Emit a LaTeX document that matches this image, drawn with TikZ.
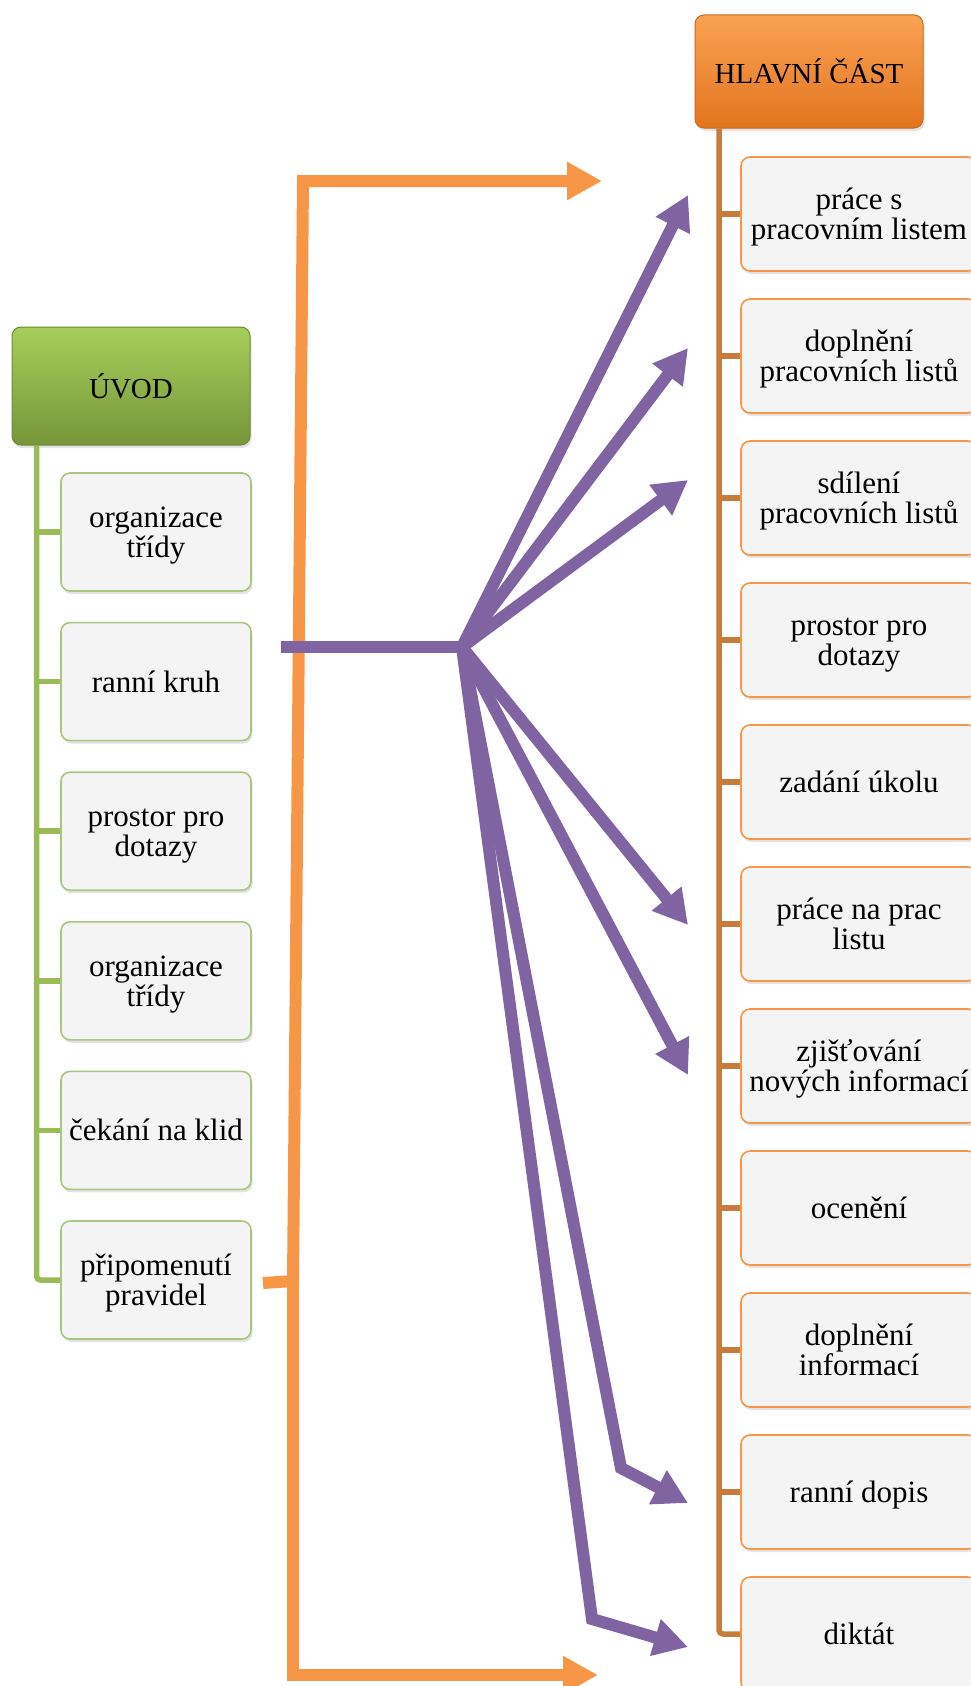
\documentclass[tikz,border=0pt]{standalone}
\usepackage{fontspec}
\setmainfont{Liberation Serif}
\usetikzlibrary{arrows.meta,shadows}

\definecolor{purp}{HTML}{8064A2}
\definecolor{orarrow}{HTML}{F79646}
\definecolor{ortrunk}{HTML}{C77C3C}
\definecolor{grtrunk}{HTML}{9BBB59}
\definecolor{grborder}{HTML}{A9C67E}
\definecolor{orborder}{HTML}{F79646}
\definecolor{boxfill}{HTML}{F4F4F4}
\definecolor{ortop}{HTML}{FAA353}
\definecolor{orbot}{HTML}{E2741E}
\definecolor{oredge}{HTML}{C9691E}
\definecolor{grtop}{HTML}{A6CE5A}
\definecolor{grbot}{HTML}{77963A}
\definecolor{gredge}{HTML}{6E8A35}

\newcommand\bs{\rule{0pt}{29pt}}
\newcommand\es{\rule[-8pt]{0pt}{8pt}}

\begin{document}
\begin{tikzpicture}[x=1pt,y=-1pt,
  childtext/.style={font=\fontsize{31}{29.5}\selectfont, align=center, text=black},
  boxshadow/.style={drop shadow={opacity=0.22, shadow xshift=1.5pt, shadow yshift=-3pt}},
  leftbox/.style={draw=grborder, line width=1.6pt, rounded corners=9pt, fill=boxfill,
    minimum width=190pt, minimum height=118pt, inner sep=0pt, childtext, boxshadow},
  rightbox/.style={draw=orborder, line width=1.6pt, rounded corners=9pt, fill=boxfill,
    minimum width=236pt, minimum height=114pt, inner sep=0pt, childtext, boxshadow},
  headbox/.style={line width=1pt, rounded corners=9pt, inner sep=0pt,
    font=\fontsize{29}{30}\selectfont, text=black, boxshadow},
  grline/.style={draw=grtrunk, line width=5.5pt},
  orline/.style={draw=ortrunk, line width=5.5pt},
  purparrow/.style={draw=purp, line width=12pt, -{Triangle[length=34pt,width=36pt]}},
  oraarrow/.style={draw=orarrow, line width=12pt, -{Triangle[length=35pt,width=36pt]}},
]
\useasboundingbox (0,0) rectangle (971,1686);

% headers
\node[headbox, draw=gredge, top color=grtop, bottom color=grbot,
  minimum width=238pt, minimum height=118pt] (uvod) at (131,386) {ÚVOD};
\node[headbox, draw=oredge, top color=ortop, bottom color=orbot,
  minimum width=228pt, minimum height=113pt] (hlavni) at (809,71.5) {HLAVNÍ ČÁST};

% left children
\node[leftbox] (l1) at (156,532) {\bs organizace\\třídy\es};
\node[leftbox] (l2) at (156,681.6) {\bs ranní kruh\es};
\node[leftbox] (l3) at (156,831.2) {\bs prostor pro\\dotazy\es};
\node[leftbox] (l4) at (156,980.8) {\bs organizace\\třídy\es};
\node[leftbox] (l5) at (156,1130.4) {\bs čekání na klid\es};
\node[leftbox] (l6) at (156,1280) {\bs připomenutí\\pravidel\es};

% right children
\node[rightbox] (r1) at (859,214) {\bs práce s\\pracovním listem\es};
\node[rightbox] (r2) at (859,356) {\bs doplnění\\pracovních listů\es};
\node[rightbox] (r3) at (859,498) {\bs sdílení\\pracovních listů\es};
\node[rightbox] (r4) at (859,640) {\bs prostor pro\\dotazy\es};
\node[rightbox] (r5) at (859,782) {\bs zadání úkolu\es};
\node[rightbox] (r6) at (859,924) {\bs práce na prac\\listu\es};
\node[rightbox] (r7) at (859,1066) {\bs zjišťování\\nových informací\es};
\node[rightbox] (r8) at (859,1208) {\bs ocenění\es};
\node[rightbox] (r9) at (859,1350) {\bs doplnění\\informací\es};
\node[rightbox] (r10) at (859,1492) {\bs ranní dopis\es};
\node[rightbox] (r11) at (859,1634) {\bs diktát\es};

% left trunk
\coordinate (gt) at ([xshift=25pt]uvod.south west);
\draw[grline, rounded corners=4pt] (gt) |- (l6.west);
\foreach \i in {1,...,5} { \draw[grline] (gt |- l\i.west) -- (l\i.west); }

% right trunk
\coordinate (ot) at ([xshift=24.5pt]hlavni.south west);
\draw[orline, rounded corners=4pt] (ot) |- (r11.west);
\foreach \i in {1,...,10} { \draw[orline] (ot |- r\i.west) -- (r\i.west); }

% orange arrows
\coordinate (ostub) at (263,1283);
\coordinate (ojun) at (293,1281);
\coordinate (otop) at (303,181);
\coordinate (otip) at (602,181);
\coordinate (obot) at (293,1675);
\coordinate (obtip) at (598,1675);
\draw[oraarrow] (ostub) -- (ojun) -- (otop) -- (otip);
\draw[oraarrow] (ojun) -- (obot) -- (obtip);

% purple arrows
\coordinate (pstart) at (281,647);
\coordinate (hub) at (462,647);
\coordinate (p1) at (688,195);
\coordinate (p2) at (688,348);
\coordinate (p3) at (688,480);
\coordinate (p4) at (688,925);
\coordinate (p5) at (688,1075);
\coordinate (c6) at (621,1468);
\coordinate (p6) at (688,1503);
\coordinate (c7) at (592,1619);
\coordinate (p7) at (688,1647);
\draw[draw=purp, line width=12pt] (pstart) -- (hub);
\foreach \p in {p1,p2,p3,p4,p5} { \draw[purparrow] (hub) -- (\p); }
\draw[purparrow] (hub) -- (c6) -- (p6);
\draw[purparrow] (hub) -- (c7) -- (p7);
\end{tikzpicture}
\end{document}
